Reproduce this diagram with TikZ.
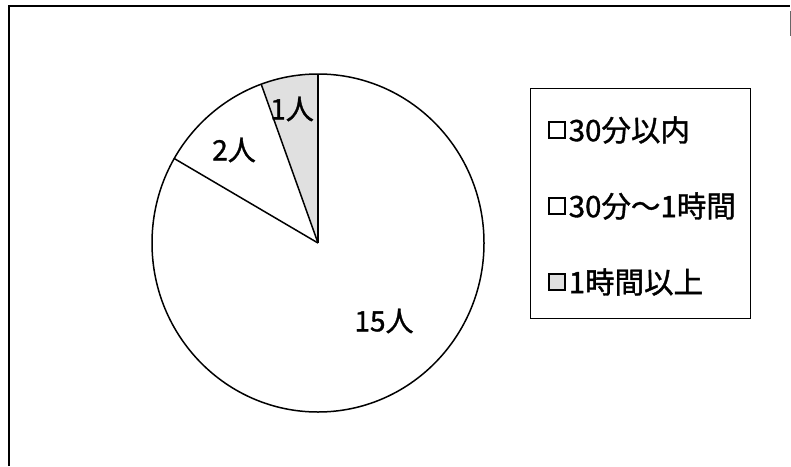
\documentclass[tikz,border=0pt]{standalone}
\usepackage{fontspec}
\setmainfont{Noto Sans CJK JP}
\newfontfamily\jp[FakeBold=1.2]{Noto Sans CJK JP}
\begin{document}
\begin{tikzpicture}[x=1pt,y=-1pt,
  frameline/.style={line width=1.6pt,black},
  pieline/.style={line width=1.5pt,black},
  shade1/.style={fill=black!12},
  lbl/.style={font=\jp\fontsize{28}{30}\selectfont,inner sep=0pt},
  legtext/.style={font=\jp\fontsize{29.5}{31}\selectfont,inner sep=0pt,anchor=west},
  legkey/.style={draw,line width=1.6pt,minimum size=16.5pt,inner sep=0pt}]
\useasboundingbox (0,0) rectangle (791,466);
% outer frame (partial, as in the scan)
\coordinate (fbl) at (9,466);
\coordinate (ftl) at (9,6);
\coordinate (ftr) at (790,6);
\coordinate (frt) at (790,11);
\coordinate (frs) at (790,36);
\draw[frameline] (fbl) -- (ftl) -- (ftr);
\draw[line width=0.8pt,black!60] (frt) -- (frs);
% pie
\coordinate (c) at (318,243);
\coordinate (e90) at (318,74);
\coordinate (e110) at (261.2,84.2);
\coordinate (e150) at (174.2,158.5);
\fill[shade1] (c) -- (e110) arc[start angle=-110,end angle=-90,x radius=166,y radius=169] -- cycle;
\draw[pieline] (c) ellipse[x radius=166,y radius=169];
\draw[pieline] (c) -- (e90);
\draw[pieline] (c) -- (e110);
\draw[pieline] (c) -- (e150);
% labels
\node[lbl] (l1) at (292,109) {1人};
\node[lbl] (l2) at (234,150) {2人};
\node[lbl] (l15) at (384,321) {15人};
% legend
\node[draw,line width=1pt,minimum width=220pt,minimum height=230pt,anchor=north west,inner sep=0pt] (leg) at (530,88) {};
\node[legkey,fill=white] (k1) at (557,130) {};
\node[legkey,fill=white] (k2) at (557,206) {};
\node[legkey,shade1] (k3) at (557,282) {};
\node[legtext] (t1) at (568.5,130) {30分以内};
\node[legtext] (t2) at (568.5,206) {30分～1時間};
\node[legtext] (t3) at (568.5,282) {1時間以上};
\end{tikzpicture}
\end{document}
